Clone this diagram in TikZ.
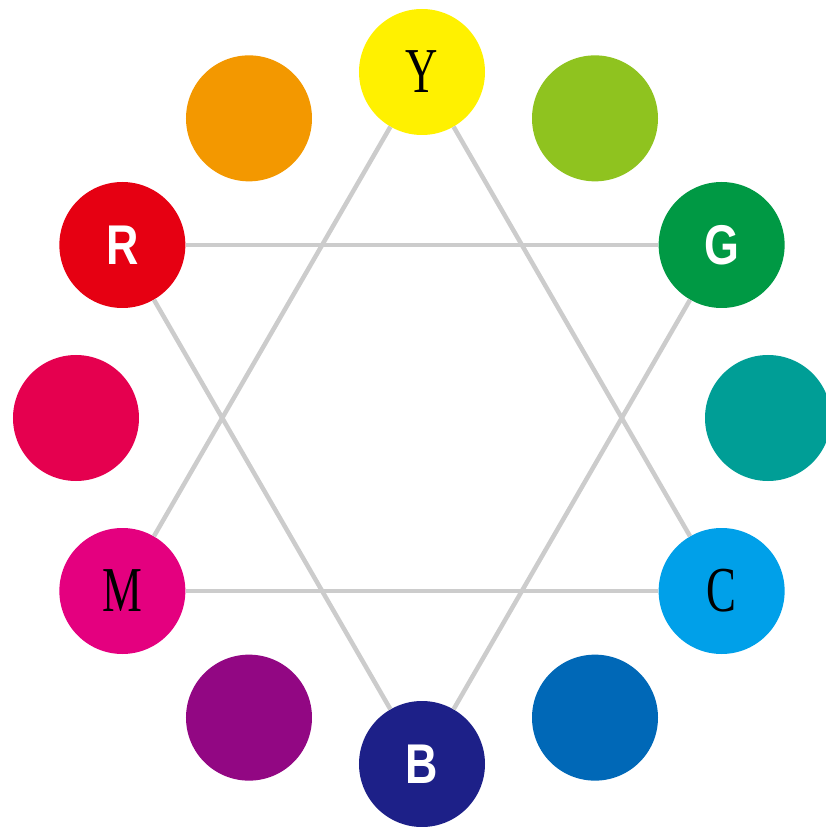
\documentclass[tikz,border=0pt]{standalone}
\usepackage{fontspec}
\usepackage{xcolor}
\newfontfamily\lettersans[FakeStretch=0.8]{Liberation Sans}
\newfontfamily\letterserif[FakeStretch=0.7]{Liberation Serif}
\usetikzlibrary{positioning}

\definecolor{wheelY}{HTML}{FFF100}
\definecolor{wheelYR}{HTML}{F39800}
\definecolor{wheelR}{HTML}{E60012}
\definecolor{wheelRM}{HTML}{E5004F}
\definecolor{wheelM}{HTML}{E4007F}
\definecolor{wheelMB}{HTML}{920783}
\definecolor{wheelB}{HTML}{1D2088}
\definecolor{wheelBC}{HTML}{0068B7}
\definecolor{wheelC}{HTML}{00A0E9}
\definecolor{wheelCG}{HTML}{009E96}
\definecolor{wheelG}{HTML}{009944}
\definecolor{wheelGY}{HTML}{8FC31F}
\definecolor{linkgray}{RGB}{204,204,204}

\begin{document}
\begin{tikzpicture}[x=1pt, y=1pt]
    \tikzset{
      hue/.style = {circle, minimum size=126pt, inner sep=0pt, draw=none},
      darkletter/.style = {hue, text=black, font=\letterserif\fontsize{64}{64}\selectfont},
      lightletter/.style = {hue, text=white, font=\lettersans\bfseries\fontsize{56}{56}\selectfont},
      link/.style = {draw=linkgray, line width=4.5pt}
    }
    \useasboundingbox (-422,-409) rectangle (403,418);

    \node (yellow) [darkletter, fill=wheelY] at (90:346pt) {Y};
    \node (orange) [hue, fill=wheelYR] at (120:346pt) {};
    \node (red) [lightletter, fill=wheelR] at (150:346pt) {R};
    \node (crimson) [hue, fill=wheelRM] at (180:346pt) {};
    \node (magenta) [darkletter, fill=wheelM] at (210:346pt) {M};
    \node (purple) [hue, fill=wheelMB] at (240:346pt) {};
    \node (blue) [lightletter, fill=wheelB] at (270:346pt) {B};
    \node (azure) [hue, fill=wheelBC] at (300:346pt) {};
    \node (cyan) [darkletter, fill=wheelC] at (330:346pt) {C};
    \node (teal) [hue, fill=wheelCG] at (0:346pt) {};
    \node (green) [lightletter, fill=wheelG] at (30:346pt) {G};
    \node (lime) [hue, fill=wheelGY] at (60:346pt) {};

    \draw [link] (yellow) -- (magenta);
    \draw [link] (magenta) -- (cyan);
    \draw [link] (cyan) -- (yellow);
    \draw [link] (red) -- (green);
    \draw [link] (green) -- (blue);
    \draw [link] (blue) -- (red);
\end{tikzpicture}
\end{document}
